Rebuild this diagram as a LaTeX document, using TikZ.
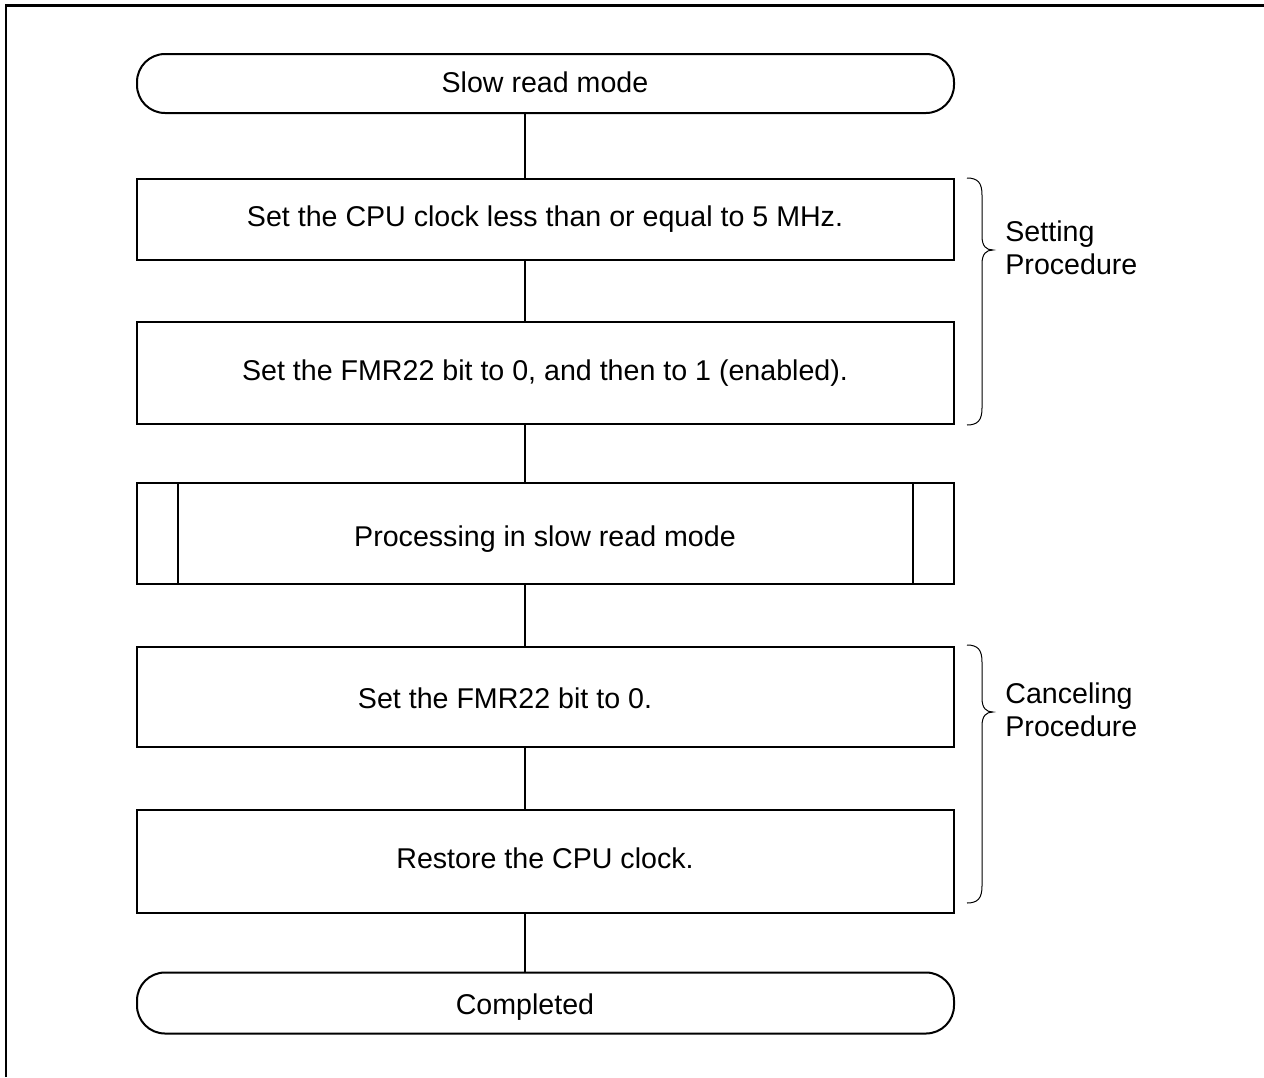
\documentclass[tikz,border=0pt]{standalone}
\usepackage{fontspec}
\setmainfont{Liberation Sans}
\begin{document}
\begin{tikzpicture}[x=0.5pt,y=-0.5pt,
  every node/.style={font=\fontsize{14.3}{16.7}\selectfont, inner sep=0pt},
  txt/.style={anchor=base},
  box/.style={draw, line width=1pt, minimum width=408.5pt, anchor=north west},
  term/.style={box, rounded corners=14pt},
  conn/.style={line width=0.9pt},
  brc/.style={line width=0.5pt},
  lab/.style={anchor=west, align=left}]
\useasboundingbox (0,0) rectangle (1264,1077);
\draw[line width=1.3pt] (6,1077) -- (6,5.5) -- (1264,5.5);
\coordinate (c) at (525,0);
\node[term, minimum height=29.5pt] (t1) at (136,53) {};
\node[txt] (t1t) at (545,92.3) {Slow read mode};
\node[box, minimum height=40.5pt] (b1) at (136,178) {};
\node[txt] (b1t) at (545,226.7) {Set the CPU clock less than or equal to 5 MHz.};
\node[box, minimum height=51pt] (b2) at (136,321) {};
\node[txt] (b2t) at (545,380) {Set the FMR22 bit to 0, and then to 1 (enabled).};
\node[box, minimum height=50.5pt] (p) at (136,482) {};
\draw[line width=1pt] (178,482) -- (178,583) (913,482) -- (913,583);
\node[txt] (pt) at (545,546.7) {Processing in slow read mode};
\node[box, minimum height=50pt] (b3) at (136,646) {};
\node[txt] (b3t) at (505,708.3) {Set the FMR22 bit to 0.};
\node[box, minimum height=51.5pt] (b4) at (136,808.5) {};
\node[txt] (b4t) at (545,868.3) {Restore the CPU clock.};
\node[term, minimum height=30.5pt] (t2) at (136,971.5) {};
\node[txt] (t2t) at (525,1014.5) {Completed};
\draw[conn] (t1.south -| c) -- (b1.north -| c);
\draw[conn] (b1.south -| c) -- (b2.north -| c);
\draw[conn] (b2.south -| c) -- (p.north -| c);
\draw[conn] (p.south -| c) -- (b3.north -| c);
\draw[conn] (b3.south -| c) -- (b4.north -| c);
\draw[conn] (b4.south -| c) -- (t2.north -| c);
\draw[brc] (967,178) .. controls (978,178) and (982,183) .. (982,195) -- (982,236)
  .. controls (982,246) and (986,250) .. (993,250)
  .. controls (986,250) and (982,254) .. (982,264) -- (982,408)
  .. controls (982,420) and (978,425) .. (967,425);
\draw[brc] (967,645) .. controls (978,645) and (982,650) .. (982,662) -- (982,698)
  .. controls (982,708) and (986,712) .. (993,712)
  .. controls (986,712) and (982,716) .. (982,726) -- (982,886)
  .. controls (982,898) and (978,903) .. (967,903);
\node[lab] (l1) at (1005,248) {Setting\\Procedure};
\node[lab] (l2) at (1005,710) {Canceling\\Procedure};
\end{tikzpicture}
\end{document}
